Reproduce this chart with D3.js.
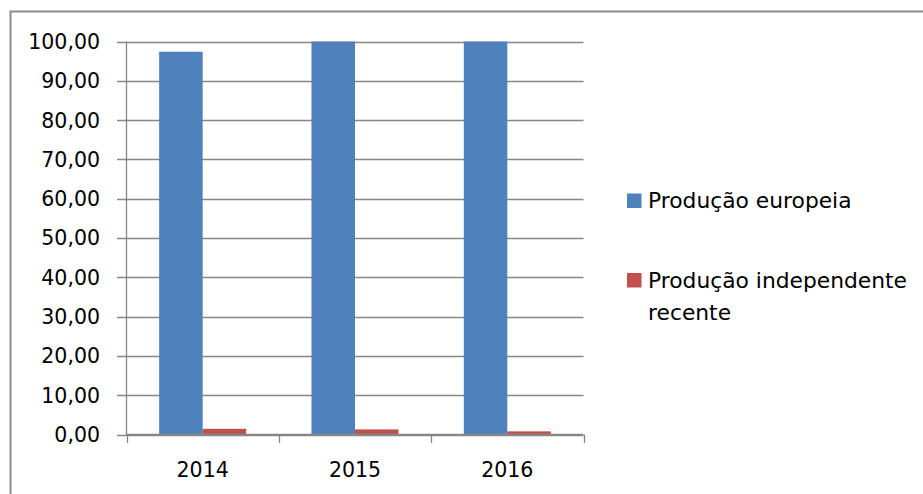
<!DOCTYPE html>
<html>
<head>
<meta charset="utf-8">
<script src="https://cdn.jsdelivr.net/npm/d3@7"></script>
<style>
  body { margin: 0; background: #fff; }
  text { font-family: "DejaVu Sans", sans-serif; fill: #000; }
</style>
</head>
<body>
<script>
// chart data
const years = ["2014", "2015", "2016"];
const seriesNames = ["Produção europeia", "Produção independente recente"];
const europeia = [97.4, 100, 100];
const independente = [1.45, 1.3, 0.8];
const yTicks = [0, 10, 20, 30, 40, 50, 60, 70, 80, 90, 100];
const colors = ["#4F81BD", "#C0504D"];

(function() {
    const width = 923;
    const height = 494;

    let svg = d3.select("body")
        .append("svg")
        .attr("width", width)
        .attr("height", height);

    // outer chart frame (runs off the picture on the right and bottom)
    svg.append("rect")
        .attr("x", 10.5)
        .attr("y", 11.5)
        .attr("width", 930)
        .attr("height", 500)
        .style("fill", "none")
        .style("stroke", "#8c8c8c")
        .style("stroke-width", 2);

    let y = d3.scaleLinear()
        .domain([0, 100])
        .range([434.5, 41.5]);

    let x0 = d3.scaleBand()
        .domain(years)
        .range([126.5, 583.5]);

    let x1 = d3.scaleBand()
        .domain(seriesNames)
        .range([0, x0.bandwidth()])
        .paddingInner(0)
        .paddingOuter(0.75);

    // gridlines
    svg.append("g")
        .selectAll("line")
        .data(yTicks)
        .enter()
        .append("line")
        .attr("x1", 117)
        .attr("x2", 583.5)
        .attr("y1", d => Math.round(y(d)) + 0.5)
        .attr("y2", d => Math.round(y(d)) + 0.5)
        .style("stroke", "#868686")
        .style("stroke-width", 1.3);

    // y axis labels
    svg.append("g")
        .selectAll("text")
        .data(yTicks)
        .enter()
        .append("text")
        .attr("x", 100)
        .attr("y", d => y(d) + 7.4)
        .attr("text-anchor", "end")
        .style("font-size", "20.5px")
        .text(d => d3.format(".2f")(d).replace(".", ","));

    // bars
    let data = years.map((yr, i) => ({ year: yr, values: [europeia[i], independente[i]] }));

    let groups = svg.append("g")
        .selectAll("g")
        .data(data)
        .enter()
        .append("g")
        .attr("transform", d => "translate(" + x0(d.year) + ",0)");

    groups.selectAll("rect")
        .data(d => d.values.map((v, k) => ({ name: seriesNames[k], value: v, k: k })))
        .enter()
        .append("rect")
        .attr("x", d => x1(d.name))
        .attr("y", d => y(d.value))
        .attr("width", x1.bandwidth())
        .attr("height", d => y(0) - y(d.value))
        .style("fill", d => colors[d.k]);

    // axes lines
    svg.append("line")
        .attr("x1", 126.5).attr("x2", 126.5)
        .attr("y1", y(100)).attr("y2", 435)
        .style("stroke", "#868686").style("stroke-width", 1.3);

    svg.append("line")
        .attr("x1", 126.5).attr("x2", 583.5)
        .attr("y1", 434.5).attr("y2", 434.5)
        .style("stroke", "#868686").style("stroke-width", 1.3);

    // x ticks at category boundaries
    let bounds = years.map(d => x0(d)).concat([x0.range()[1]]);
    svg.append("g")
        .selectAll("line")
        .data(bounds)
        .enter()
        .append("line")
        .attr("x1", d => Math.round(d) + 0.5)
        .attr("x2", d => Math.round(d) + 0.5)
        .attr("y1", 434.5)
        .attr("y2", 443)
        .style("stroke", "#868686")
        .style("stroke-width", 1.3);

    // x labels
    svg.append("g")
        .selectAll("text")
        .data(years)
        .enter()
        .append("text")
        .attr("x", d => x0(d) + x0.bandwidth() / 2)
        .attr("y", 476.7)
        .attr("text-anchor", "middle")
        .style("font-size", "20.5px")
        .text(d => d);

    // legend
    let legend = svg.append("g")
        .selectAll("g")
        .data(seriesNames)
        .enter()
        .append("g")
        .attr("transform", (d, i) => "translate(627," + (i === 0 ? 193.5 : 273) + ")");

    legend.append("rect")
        .attr("width", 14.5)
        .attr("height", 14.5)
        .style("fill", (d, i) => colors[i]);

    legend.append("text")
        .attr("x", 21)
        .attr("y", 14.5)
        .style("font-size", "21.8px")
        .each(function(d) {
            let words = d === seriesNames[1] ? ["Produção independente", "recente"] : [d];
            let t = d3.select(this);
            words.forEach((w, j) => {
                t.append("tspan")
                    .attr("x", 21)
                    .attr("dy", j === 0 ? 0 : 32)
                    .text(w);
            });
        });
})();
</script>
</body>
</html>
